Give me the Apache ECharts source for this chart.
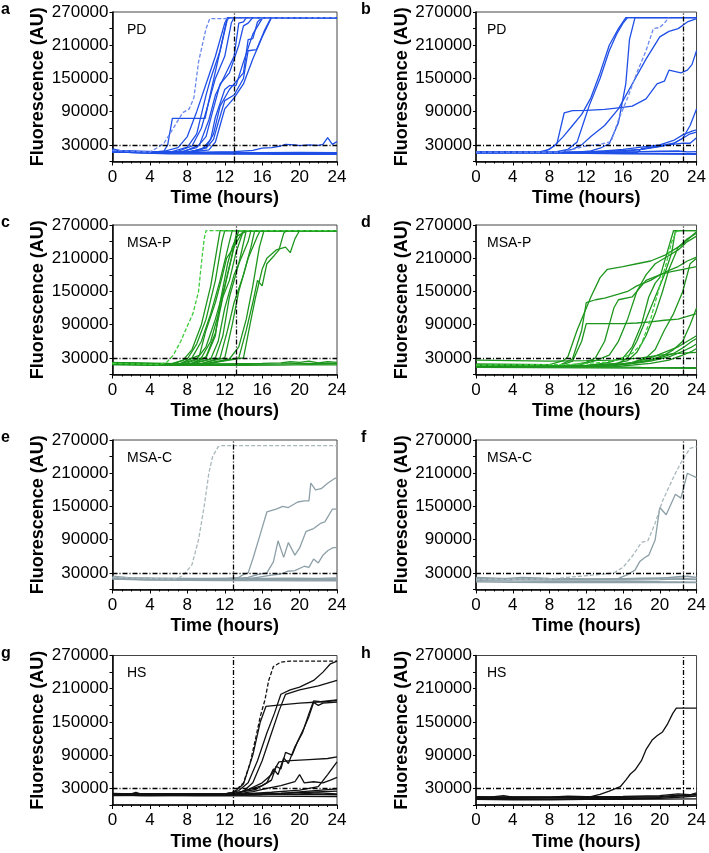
<!DOCTYPE html>
<html>
<head>
<meta charset="utf-8">
<script src="https://cdn.jsdelivr.net/npm/echarts@6/dist/echarts.min.js"></script>
<style>
html,body{margin:0;padding:0;background:#fff;}
#chart{width:709px;height:853px;}
</style>
</head>
<body>
<div id="chart"></div>
<script>
// ---------------- DATA (hours, fluorescence AU) ----------------
const panelLetters = ['a','b','c','d','e','f','g','h'];
const panelLabels = ['PD','PD','MSA-P','MSA-P','MSA-C','MSA-C','HS','HS'];
const threshold = 30000;
const cutoffHours = [13, 22.5, 13.2, 22.6, 12.9, 22.5, 12.9, 22.5];
const yTickLabels = [30000, 90000, 150000, 210000, 270000];
const xTickLabels = [0, 4, 8, 12, 16, 20, 24];

// Panel a (PD, early)
const a_dashed = [[0,20000],[4,17000],[4.8,25000],[5.5,33000],[6.5,60000],[7.5,88000],[8.2,95000],[8.7,115000],[9.2,180000],[9.6,210000],[10,240000],[10.4,258000],[10.6,260000],[24,260000]];
const a_lines = [
 [[0,21000],[1,18000],[3,16000],[6,15000],[10,14500],[14,15000],[18,14500],[24,14000]],
 [[0,19000],[2,16000],[6,14000],[12,13500],[18,13000],[24,13000]],
 [[0,23000],[1,19000],[4,17000],[8,16000],[12,16500],[16,16000],[20,16500],[24,16000]],
 [[0,20000],[4,17000],[10,17000],[13,18000],[15,20000],[16,24000],[17,25000],[18,28000],[18.5,31000],[19.5,30000],[20,28500],[21,30000],[22,29000],[22.5,31000],[23,43000],[23.5,31000],[24,36000]],
 [[0,20000],[4,16000],[5.5,19000],[5.9,30000],[6.4,78000],[9.9,78000],[10.5,125000],[11.5,200000],[12.2,255000],[12.5,260000],[24,260000]],
 [[0,19000],[5,16000],[7,25000],[8,45000],[9,90000],[10,140000],[11,190000],[12,250000],[12.3,260000],[24,260000]],
 [[0,18000],[6,16000],[8,26000],[9,50000],[10,120000],[10.5,150000],[11.5,200000],[12.3,258000],[12.6,260000],[24,260000]],
 [[0,17000],[6.5,15000],[8.5,28000],[9.5,60000],[10.5,120000],[11,150000],[12,190000],[12.7,250000],[13,260000],[24,260000]],
 [[0,18000],[7,16000],[9,25000],[10,45000],[10.7,90000],[11.5,140000],[12.5,160000],[13.5,210000],[14,245000],[14.5,250000],[15,260000],[24,260000]],
 [[0,17000],[7,15000],[9.5,21000],[10.5,40000],[11,80000],[12,130000],[12.5,137000],[13.2,137000],[14,180000],[15,230000],[16,258000],[16.3,260000],[24,260000]],
 [[0,19000],[8,17000],[10,24000],[10.8,40000],[11.3,70000],[12,110000],[13,120000],[14,150000],[14.5,200000],[15.4,202000],[16.2,235000],[16.8,255000],[17,260000],[24,260000]],
 [[0,18000],[8,16000],[10.3,21000],[11,35000],[11.5,65000],[12,95000],[13,115000],[14,140000],[15,185000],[16,225000],[17,260000],[24,260000]],
 [[0,17000],[8,15000],[10,26000],[10.8,50000],[11.5,100000],[12.5,130000],[13.5,150000],[14,160000],[14.5,220000],[15,222000],[15.3,240000],[15.5,252000],[16,260000],[24,260000]],
 [[0,19000],[7.5,17000],[9.3,30000],[10.3,75000],[11,120000],[12,155000],[13,190000],[13.5,250000],[14,252000],[14.3,260000],[24,260000]]
];

// Panel b (PD, late)
const b_dashed = [[0,17000],[9,17000],[10.5,22000],[12,28000],[13.5,31000],[14.7,36000],[15.5,75000],[16.5,115000],[17.5,160000],[18.5,200000],[19.3,240000],[20,242000],[20.5,250000],[21,260000]];
const b_lines = [
 [[0,18000],[4,17000],[8,16500],[12,15500],[16,15000],[20,14500],[24,14000]],
 [[0,16000],[4,15500],[8,15000],[12,14500],[16,14000],[20,13500],[24,13000]],
 [[0,17500],[5,17000],[10,16500],[15,17000],[18,18000],[20,18500],[22,19000],[23,17500],[24,18000]],
 [[0,17000],[10,16000],[16,18000],[18,22000],[20,28000],[21,30000],[22.5,33000],[23.3,33000],[24,43000]],
 [[0,16000],[8,15500],[12,16500],[14,19000],[16,22000],[18,26000],[20,30000],[21.5,38000],[22.5,48000],[23.5,55000],[24,57000]],
 [[0,15000],[12,16000],[17.5,16000],[18,23000],[20,28000],[21.5,33000],[22.5,42000],[23.3,50000],[24,53000]],
 [[0,17000],[10,17000],[15,19000],[18,22000],[20,27000],[21.5,32000],[22.5,42000],[23.3,65000],[24,95000]],
 [[0,17000],[7,18000],[8,22000],[8.8,32000],[9.6,88000],[10.5,92000],[12,92500],[14,94000],[15.5,97000],[17,100000],[18.5,113000],[19.7,140000],[20.5,145000],[21,165000],[22.3,160000],[23,165000],[23.5,175000],[24,200000]],
 [[0,17000],[7.5,18000],[8.5,28000],[9.5,45000],[10.5,65000],[11.5,85000],[12.5,115000],[13.5,160000],[14.5,210000],[15.5,240000],[16.3,260000],[24,260000]],
 [[0,16000],[8.5,17000],[10,22000],[11,35000],[11.7,70000],[12.3,100000],[13.5,150000],[14.5,200000],[15.3,230000],[16,250000],[16.5,260000],[24,260000]],
 [[0,16000],[9,17000],[10.5,22000],[11.5,30000],[12.5,45000],[14,65000],[15.5,95000],[17,140000],[18.5,185000],[20,225000],[21,235000],[22,240000],[23,252000],[24,258000]],
 [[0,17000],[11,17000],[12.5,19000],[13.5,24000],[14.5,32000],[15.5,70000],[16.3,140000],[16.7,220000],[17.3,260000],[24,260000]]
];

// Panel c (MSA-P, early)
const c_dashed = [[0,20000],[5,18000],[5.8,22000],[6.5,35000],[7.3,60000],[7.8,80000],[8.2,95000],[8.6,110000],[9.2,150000],[9.5,200000],[9.8,245000],[10,260000],[24,260000]];
const c_lines = [
 [[0,20000],[4,18000],[8,18000],[12,19000],[16,20000],[18,21000],[19,23000],[20,22000],[21,24000],[22,21000],[23,23000],[24,22000]],
 [[0,18000],[5,16500],[10,17000],[14,16500],[18,17000],[21,18000],[24,17500]],
 [[0,22000],[5,19000],[10,19000],[14,18500],[18,19000],[21,20000],[24,19500]],
 [[0,20000],[6,17000],[7.5,25000],[8.5,45000],[9.5,90000],[10.5,160000],[11.2,230000],[11.5,260000],[24,260000]],
 [[0,21000],[6,18000],[8,28000],[9,55000],[10,100000],[11,170000],[11.7,240000],[12,260000],[24,260000]],
 [[0,19000],[7,17000],[8.5,30000],[9.5,60000],[10.5,110000],[11.5,170000],[12.5,240000],[12.8,260000],[24,260000]],
 [[0,20000],[7,18000],[9,28000],[10,50000],[11,100000],[12,160000],[12.7,210000],[13.3,260000],[24,260000]],
 [[0,21000],[7.5,18000],[9.5,30000],[10.5,60000],[11.5,120000],[12.3,180000],[13,230000],[13.5,260000],[24,260000]],
 [[0,19000],[8,17000],[10,32000],[11,75000],[11.8,140000],[12.5,170000],[13.2,220000],[14,260000],[24,260000]],
 [[0,20000],[8,18000],[10.5,28000],[11.3,60000],[12,120000],[13,180000],[13.5,200000],[14.3,260000],[24,260000]],
 [[0,21000],[8.5,19000],[11,30000],[11.8,70000],[12.5,140000],[13.5,200000],[14.5,240000],[14.8,260000],[24,260000]],
 [[0,18000],[9,17000],[11.5,30000],[12.3,80000],[13,130000],[14,180000],[14.8,230000],[15.2,260000],[24,260000]],
 [[0,20000],[9,18000],[12,30000],[12.8,90000],[13.5,150000],[14.5,210000],[15.5,250000],[15.8,260000],[24,260000]],
 [[0,19000],[9.5,18000],[12.5,28000],[13.5,50000],[14.3,100000],[15,160000],[15.7,230000],[16.2,260000],[24,260000]],
 [[0,20000],[10,19000],[13.5,30000],[14.3,80000],[15,130000],[15.5,170000],[16,160000],[16.5,200000],[17.3,215000],[17.8,225000],[18.3,255000],[18.6,260000],[24,260000]],
 [[0,21000],[10,19000],[14,30000],[14.7,90000],[15.3,140000],[16,190000],[16.5,210000],[17.5,225000],[18.5,230000],[19,220000],[19.5,245000],[20,260000],[24,260000]],
 [[0,19000],[8,17000],[10,30000],[11,70000],[11.5,130000],[12.3,200000],[12.8,230000],[13.3,250000],[14.5,260000],[24,260000]],
 [[0,20000],[7,18000],[9.3,35000],[10,80000],[11,130000],[11.7,175000],[12.2,210000],[12.8,225000],[13.3,240000],[14,260000],[24,260000]]
];

// Panel d (MSA-P, late)
const d_dashed = [[0,17000],[10,18000],[14,22000],[15.5,27000],[17,38000],[18,55000],[19,100000],[20,160000],[20.7,200000],[21.3,240000],[21.8,258000],[22.3,260000]];
const d_lines = [
 [[0,19000],[8,18000],[9.5,25000],[10,32000],[11,80000],[12.5,140000],[13.5,175000],[14.3,190000],[16,195000],[17.5,200000],[19,205000],[20.5,215000],[21.5,225000],[22.5,235000],[23.3,248000],[24,258000]],
 [[0,17000],[9,16000],[10.5,28000],[11.5,80000],[12,130000],[13,135000],[14,138000],[15.5,145000],[16.5,150000],[17.5,160000],[19,170000],[20,180000],[21,188000],[22,195000],[23,205000],[24,212000]],
 [[0,16000],[9,15000],[10.5,24000],[11.5,60000],[12,92000],[14,92000],[16,92000],[17.5,93000],[19,95000],[20.5,98000],[22,100000],[23,105000],[24,110000]],
 [[0,16000],[10,16000],[12,22000],[13,30000],[14,60000],[15,120000],[15.5,135000],[17,140000],[18.5,170000],[20,180000],[21,185000],[22.5,190000],[24,195000]],
 [[0,15000],[11,16000],[13,25000],[14.5,35000],[15.5,60000],[16.5,100000],[17.5,150000],[18.5,180000],[19.5,200000],[21,215000],[22,225000],[23,240000],[24,250000]],
 [[0,15000],[12,16000],[14.5,22000],[16,30000],[17,50000],[18,90000],[18.8,140000],[19.5,165000],[20,175000],[21.5,260000],[24,260000]],
 [[0,16000],[12,16000],[15,19000],[16.5,25000],[17.5,40000],[18.5,70000],[19.5,110000],[20.3,150000],[21,190000],[22,230000],[23,245000],[24,255000]],
 [[0,14000],[12,15000],[15,17000],[17,22000],[18.5,30000],[19.5,45000],[20.5,80000],[21.5,110000],[22.5,150000],[23.3,200000],[24,210000]],
 [[0,15000],[13,15000],[17,20000],[19,27000],[20.5,35000],[21.5,45000],[22.5,60000],[23.3,90000],[24,120000]],
 [[0,16000],[14,16000],[17,21000],[19,30000],[20.5,40000],[22,50000],[23,60000],[24,70000]],
 [[0,14000],[14,15000],[18,22000],[20,30000],[21.5,38000],[22.5,48000],[23.5,60000],[24,65000]],
 [[0,15000],[15,16000],[19,24000],[21,32000],[22.5,42000],[23.5,50000],[24,55000]],
 [[0,13000],[15,14000],[19,20000],[21,26000],[22.5,35000],[23.5,42000],[24,47000]],
 [[0,26000],[4,25000],[8,24000],[12,25000],[15,26000],[18,30000],[20,35000],[22,38000],[24,40000]],
 [[0,13000],[6,12500],[12,12000],[18,11500],[24,11000]],
 [[0,16000],[6,15000],[12,14000],[18,13000],[24,12500]],
 [[0,16000],[12,16500],[15.5,20000],[16.5,30000],[17.5,60000],[18.5,100000],[19.5,140000],[20.5,180000],[21.3,220000],[21.7,260000],[24,260000]]
];

// Panel e (MSA-C, early)
const e_dashed = [[0,22000],[6,19000],[7,20000],[7.7,28000],[8.5,45000],[9.2,90000],[9.8,150000],[10.3,210000],[10.7,240000],[11.3,258000],[11.8,260000],[24,260000]];
const e_lines = [
 [[0,22000],[2,20000],[5,19000],[8,19500],[11,19000],[14,19000],[17,18500],[20,19000],[24,18500]],
 [[0,20000],[3,18000],[6,17500],[9,17000],[12,17500],[15,17000],[18,17000],[21,17000],[24,16500]],
 [[0,24000],[2,21000],[4,20500],[7,20000],[10,20000],[13,20500],[16,20000],[19,20500],[22,20000],[24,21000]],
 [[0,19000],[4,17000],[8,16500],[12,16000],[16,16000],[20,15500],[24,15500]],
 [[0,21000],[3,19500],[6,19000],[9,18500],[12,18000],[15,19000],[18,18500],[21,18000],[24,19000]],
 [[0,21000],[12,19000],[13.5,22000],[14,27000],[14.5,30000],[15,55000],[15.8,100000],[16.5,140000],[17.5,145000],[18.2,150000],[18.8,148000],[19.8,158000],[20.5,160000],[21,160000],[21.2,192000],[21.7,180000],[22.3,182000],[23,192000],[23.7,200000],[24,202000]],
 [[0,20000],[13,19000],[14.5,22000],[15.5,27000],[16.5,30000],[17.2,50000],[17.7,88000],[18.3,58000],[18.8,85000],[19.5,62000],[20,75000],[20.7,105000],[21.5,110000],[22.3,120000],[22.7,122000],[23.5,145000],[24,145000]],
 [[0,19000],[14,18000],[15.5,22000],[17,26000],[18,28000],[18.7,33000],[19.5,34000],[20.5,42000],[21,40000],[21.5,55000],[22,48000],[22.5,62000],[23,70000],[23.5,75000],[24,76000]]
];

// Panel f (MSA-C, late)
const f_dashed = [[0,18000],[8,19000],[10,22000],[12,25000],[14,28000],[15,30000],[16,40000],[17,60000],[18,85000],[18.7,88000],[19.5,120000],[20.3,160000],[21,185000],[21.7,210000],[22.5,235000],[23.3,255000],[24,258000]];
const f_lines = [
 [[0,20000],[3,19000],[5,22000],[8,20000],[12,19000],[16,19000],[20,20000],[22,23000],[23,24000],[24,22000]],
 [[0,16000],[4,15000],[8,14500],[12,14000],[16,15000],[20,14000],[24,13500]],
 [[0,18000],[4,17500],[8,17000],[12,17000],[16,17500],[20,18000],[22,19000],[24,18000]],
 [[0,14000],[4,13000],[8,12500],[12,12500],[16,12500],[20,13000],[24,12500]],
 [[0,22000],[3,20000],[6,20000],[9,19000],[12,18000],[15,19000],[18,20500],[21,21000],[23,20000],[24,21000]],
 [[0,18000],[14,19000],[15.5,20000],[16.5,27000],[17.3,35000],[17.8,50000],[18.3,57000],[18.8,62000],[19.5,90000],[20,148000],[20.7,135000],[21.7,172000],[22.3,165000],[23,210000],[24,202000]]
];

// Panel g (HS, early)
const g_dashed = [[0,20000],[12,20000],[13,24000],[14,40000],[14.7,75000],[15.3,120000],[15.8,160000],[16.3,190000],[16.7,225000],[17.2,250000],[18,258000],[19,260000],[24,260000]];
const g_lines = [
 [[0,21000],[2,20000],[2.5,23000],[3,20000],[6,19000],[9,19500],[12,20000],[14,20000],[18,19000],[22,19000],[24,18500]],
 [[0,19000],[3,17000],[6,17000],[9,16500],[12,17000],[16,16000],[20,15500],[24,15000]],
 [[0,20000],[4,18500],[8,18000],[12,19000],[15,20000],[18,21000],[21,23000],[24,25000]],
 [[0,18000],[4,17000],[8,17500],[12,18000],[16,18500],[20,20000],[22,22000],[24,20000]],
 [[0,19000],[12,20000],[13,23000],[14,38000],[15,90000],[15.8,150000],[16.4,178000],[18,181000],[20,184000],[22,186000],[24,190000]],
 [[0,20000],[12.5,20000],[13.5,26000],[14.5,40000],[15.5,80000],[16.5,130000],[17.3,165000],[18,200000],[19,208000],[20,213000],[21.5,225000],[22.5,240000],[23.3,255000],[24,260000]],
 [[0,19000],[13,20000],[14,25000],[15,40000],[16,80000],[17,130000],[17.8,170000],[18.5,200000],[20,208000],[22,215000],[24,225000]],
 [[0,20000],[13,21000],[14,25000],[15,30000],[16,35000],[17,45000],[17.5,70000],[18,65000],[18.5,95000],[19.2,90000],[19.8,115000],[20.5,140000],[21,160000],[21.5,185000],[22,180000],[22.5,184000],[24,186000]],
 [[0,19000],[13,20000],[14,24000],[15.3,28000],[16.5,40000],[17.2,65000],[17.7,55000],[18.3,85000],[18.8,75000],[19.5,105000],[20.3,130000],[21,165000],[21.5,188000],[22.5,186000],[24,189000]],
 [[0,20000],[13,20000],[14.5,28000],[16,40000],[17,55000],[17.8,78000],[19,80000],[21,82000],[23,84000],[24,87000]],
 [[0,18000],[13,19000],[15,24000],[16.5,30000],[18,35000],[19.5,42000],[20,55000],[20.5,40000],[21.5,42000],[22.5,40000],[23.3,45000],[24,50000]],
 [[0,19000],[14,20000],[17,23000],[20,27000],[22,33000],[23,55000],[24,78000]],
 [[0,17000],[14,18000],[18,21000],[21,25000],[24,29000]]
];

// Panel h (HS, late)
const h_dashed = [];
const h_lines = [
 [[0,15000],[1.5,14000],[3,17000],[4,14000],[8,14000],[10,16000],[12,15000],[16,15500],[20,17000],[22,20000],[24,18000]],
 [[0,12000],[4,11500],[8,11000],[12,11500],[16,12000],[20,12000],[22,14000],[24,16000]],
 [[0,13500],[4,13000],[8,13000],[12,13500],[16,14000],[20,15000],[22,18000],[23,17000],[24,22000]],
 [[0,10000],[4,9500],[8,9500],[12,10000],[16,10000],[20,10500],[24,11000]],
 [[0,14500],[4,14000],[8,13500],[12,14000],[16,14500],[20,14000],[22,16000],[24,19000]],
 [[0,14000],[12.5,15000],[13.5,19000],[14.5,25000],[15.7,33000],[16.3,45000],[16.8,56000],[17.3,63000],[18,80000],[18.5,100000],[19.2,118000],[19.7,125000],[20.3,132000],[20.8,145000],[21.4,165000],[21.8,175000],[24,175000]]
];

const panelLines = [a_lines, b_lines, c_lines, d_lines, e_lines, f_lines, g_lines, h_lines];
const panelDashed = [a_dashed, b_dashed, c_dashed, d_dashed, e_dashed, f_dashed, g_dashed, h_dashed];

// ---------------- STYLE / LAYOUT ----------------
const lineColors = ['#1f4fe6','#1f4fe6','#1e961e','#1e961e','#8d9fa7','#8d9fa7','#111111','#111111'];
const dashColors = ['#6a88ee','#6a88ee','#3ccc3c','#3ccc3c','#a9b8bc','#a9b8bc','#111111','#111111'];
const colLeft = [112.5, 476];
const rowTop = [12, 225, 440, 655.5];
const plotW = 224.5, plotH = 149.5;
const FONT = 'Liberation Sans, Arial, sans-serif';

const chart = echarts.init(document.getElementById('chart'), null, {renderer:'canvas'});
const grids = [], xAxes = [], yAxes = [], series = [], graphics = [];

for (let i = 0; i < 8; i++) {
  const col = i % 2, row = Math.floor(i / 2);
  const L = colLeft[col], T = rowTop[row];
  grids.push({left: L, top: T, width: plotW, height: plotH, show: true, borderColor: '#444', borderWidth: 1, backgroundColor: 'transparent'});
  xAxes.push({
    type: 'value', gridIndex: i, min: 0, max: 24, interval: 4,
    name: 'Time (hours)', nameLocation: 'middle', nameGap: 28,
    nameTextStyle: {fontFamily: FONT, fontWeight: 'bold', fontSize: 18, color: '#000'},
    axisLine: {show: true, onZero: false, lineStyle: {color: '#000', width: 1.5}},
    axisTick: {show: true, inside: false, length: 4, lineStyle: {color: '#000', width: 1}},
    minorTick: {show: true, splitNumber: 4, length: 2, lineStyle: {color: '#000', width: 1}},
    axisLabel: {fontFamily: FONT, fontSize: 17, color: '#000', margin: 7,
      formatter: v => xTickLabels.includes(v) ? String(v) : ''},
    splitLine: {show: false}
  });
  yAxes.push({
    type: 'value', gridIndex: i, min: 0, max: 270000, interval: 30000,
    name: 'Fluorescence (AU)', nameLocation: 'middle', nameGap: 65,
    nameTextStyle: {fontFamily: FONT, fontWeight: 'bold', fontSize: 18, color: '#000'},
    axisLine: {show: true, onZero: false, lineStyle: {color: '#000', width: 1.5}},
    axisTick: {show: true, inside: false, length: 3, lineStyle: {color: '#000', width: 1}},
    axisLabel: {fontFamily: FONT, fontSize: 17, color: '#000', margin: 4,
      formatter: v => yTickLabels.includes(v) ? String(v) : ''},
    splitLine: {show: false}
  });
  panelLines[i].forEach(d => {
    series.push({type: 'line', xAxisIndex: i, yAxisIndex: i, data: d, showSymbol: false, symbol: 'none',
      lineStyle: {color: lineColors[i], width: 1.3}, silent: true, z: 2});
  });
  series.push({type: 'line', xAxisIndex: i, yAxisIndex: i, data: panelDashed[i], showSymbol: false, symbol: 'none',
    lineStyle: {color: dashColors[i], width: 1.3, type: [4, 2]}, silent: true, z: 3,
    markLine: {silent: true, symbol: ['none','none'], label: {show: false},
      lineStyle: {color: '#000', width: 1.3, type: [5, 2, 1, 2]},
      data: [{xAxis: cutoffHours[i]}, {yAxis: threshold}]}
  });
  graphics.push({type: 'text', left: col === 0 ? 1 : 361, top: T - 10,
    style: {text: panelLetters[i], font: 'bold 16px ' + FONT, fill: '#000'}});
  graphics.push({type: 'text', left: L + (col === 0 ? 14.5 : 11), top: T + 11,
    style: {text: panelLabels[i], font: '14px ' + FONT, fill: '#000'}});
}

chart.setOption({
  animation: false,
  backgroundColor: '#fff',
  grid: grids, xAxis: xAxes, yAxis: yAxes, series: series, graphic: graphics
});
</script>
</body>
</html>
